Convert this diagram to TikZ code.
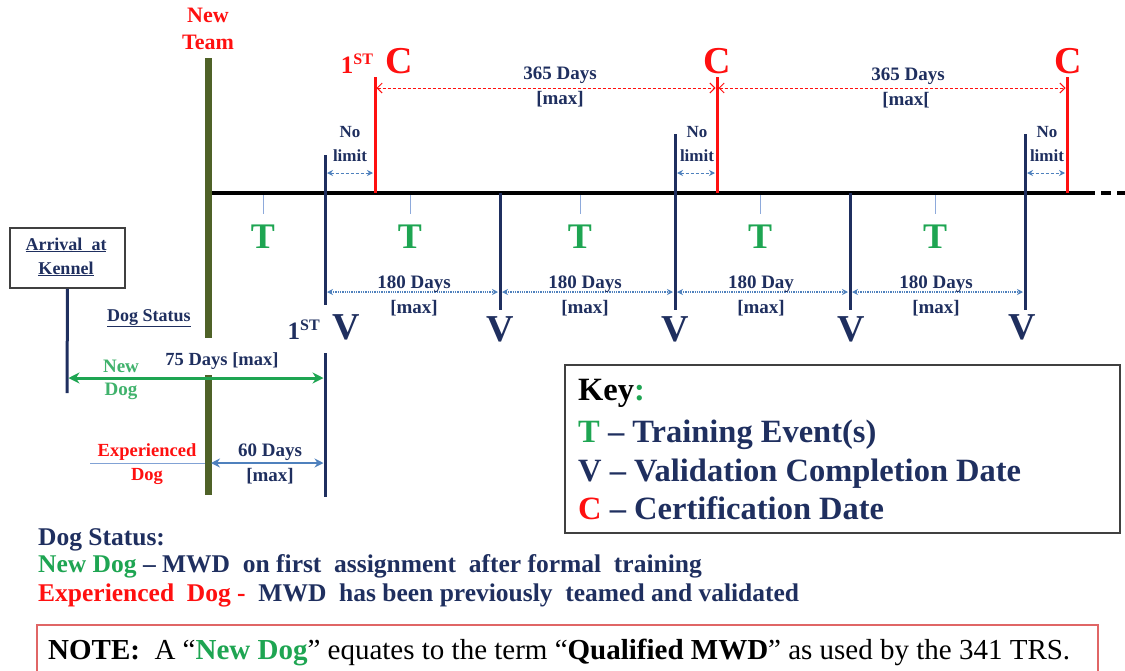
\documentclass[tikz,border=0pt]{standalone}
\usepackage{fontspec}
\setmainfont{Liberation Serif}
\usetikzlibrary{arrows.meta}
\definecolor{navy}{HTML}{1F2F5F}
\definecolor{tgreen}{HTML}{1EA552}
\definecolor{tred}{HTML}{FF1010}
\definecolor{olive}{HTML}{4F6228}
\definecolor{lblue}{HTML}{4F81BD}
\definecolor{tickc}{HTML}{8EAADB}
\definecolor{notered}{HTML}{E06666}
\tikzset{
 vl/.style={draw=navy, line width=3pt},
 cl/.style={draw=tred, line width=3pt},
 tk/.style={draw=tickc, line width=1pt},
 lb/.style={font=\bfseries\fontsize{19}{19}\selectfont, text=navy, inner sep=0pt, anchor=base},
 big/.style={font=\bfseries\fontsize{38}{38}\selectfont, inner sep=0pt, anchor=base},
 yr/.style={draw=tred, densely dashed, line width=1pt, {Straight Barb[length=5pt,width=10pt]}-{Straight Barb[length=5pt,width=10pt]}},
 hd/.style={draw=lblue, densely dotted, line width=1.3pt, {Stealth[length=6pt,width=6pt]}-{Stealth[length=6pt,width=6pt]}},
 nl/.style={draw=lblue, densely dashed, line width=1pt, {Stealth[length=6pt,width=6pt]}-{Stealth[length=6pt,width=6pt]}},
 keyt/.style={font=\bfseries\fontsize{32.5}{32.5}\selectfont, text=navy, inner sep=0pt, anchor=base west},
 st/.style={font=\bfseries\fontsize{25.5}{25.5}\selectfont, text=navy, inner sep=0pt, anchor=base west},
}
\begin{document}
\begin{tikzpicture}[x=1pt,y=-1pt]
\useasboundingbox (0,0) rectangle (1125,670);
% ---- main timeline
\coordinate (tl0) at (205,193);
\coordinate (tl1) at (1085,193);
\coordinate (tl2) at (1125,193);
\draw[black, line width=4pt] (tl0) -- (tl1);
\draw[black, line width=4pt, dash pattern=on 10pt off 6pt] (tl1) -- (tl2);
% ---- New Team bar
\node[font=\bfseries\fontsize{22}{27}\selectfont, text=tred, align=center, inner sep=0pt] (newteam) at (208,29) {New\\Team};
\coordinate (nt0) at (208,58);
\coordinate (nt1) at (208,338);
\coordinate (nt2) at (208,375);
\coordinate (nt3) at (208,495);
\draw[olive, line width=7pt] (nt0) -- (nt1);
\draw[olive, line width=7pt] (nt2) -- (nt3);
% ---- C lines
\foreach \n/\x in {1/375,2/717,3/1067}{
  \coordinate (c\n t) at (\x,77);
  \coordinate (c\n b) at (\x,193);
  \draw[cl] (c\n t) -- (c\n b);
}
\node[big, text=tred] (c1l) at (377,73) {{\fontsize{25}{25}\selectfont 1\raisebox{9pt}{\fontsize{16}{16}\selectfont ST}}\,\,C};
\node[big, text=tred] (c2l) at (717,73) {C};
\node[big, text=tred] (c3l) at (1068,73) {C};
\coordinate (y1a) at (376.5,88); \coordinate (y1b) at (715.5,88);
\coordinate (y2a) at (718.5,88); \coordinate (y2b) at (1065.5,88);
\draw[yr] (y1a) -- (y1b);
\draw[yr] (y2a) -- (y2b);
\node[lb] (d365a) at (560,79) {365 Days};
\node[lb] (m365a) at (560,104) {[max]};
\node[lb] (d365b) at (908,80) {365 Days};
\node[lb] (m365b) at (906,105) {[max[};
% ---- V lines
\coordinate (v1t) at (325,155); \coordinate (v1b) at (325,305);
\coordinate (v1u) at (325,353); \coordinate (v1e) at (325,497);
\draw[vl] (v1t) -- (v1b);
\draw[vl] (v1u) -- (v1e);
\coordinate (v2t) at (500,193); \coordinate (v2b) at (500,310);
\coordinate (v3t) at (675,134); \coordinate (v3b) at (675,310);
\coordinate (v4t) at (850,193); \coordinate (v4b) at (850,310);
\coordinate (v5t) at (1025,134); \coordinate (v5b) at (1025,310);
\draw[vl] (v2t) -- (v2b);
\draw[vl] (v3t) -- (v3b);
\draw[vl] (v4t) -- (v4b);
\draw[vl] (v5t) -- (v5b);
\node[big, text=navy, anchor=base east] (v1l) at (360,339) {{\fontsize{25}{25}\selectfont 1\raisebox{9pt}{\fontsize{16}{16}\selectfont ST}}\,\,V};
\node[big, text=navy] (v2l) at (500,341) {V};
\node[big, text=navy] (v3l) at (675,341) {V};
\node[big, text=navy] (v4l) at (851,341) {V};
\node[big, text=navy] (v5l) at (1022,339) {V};
% ---- No limit
\foreach \n/\x/\a/\b in {1/350/327/373,2/697/677/715,3/1047/1027/1065}{
  \node[lb, font=\bfseries\fontsize{17}{17}\selectfont] (no\n) at (\x,137) {No};
  \node[lb, font=\bfseries\fontsize{17}{17}\selectfont] (lim\n) at (\x,161) {limit};
  \coordinate (nla\n) at (\a,173);
  \coordinate (nlb\n) at (\b,173);
  \draw[nl] (nla\n) -- (nlb\n);
}
% ---- T ticks
\foreach \n/\x in {1/263,2/410,3/580,4/760,5/935}{
  \coordinate (tt\n) at (\x,195);
  \coordinate (tb\n) at (\x,214);
  \draw[tk] (tt\n) -- (tb\n);
  \node[big, font=\bfseries\fontsize{36}{36}\selectfont, text=tgreen] (t\n) at (\x,248) {T};
}
% ---- 180 day arrows
\foreach \n/\a/\b/\c/\lab in {1/327/498/414/180 Days,2/502/673/585/180 Days,3/677/848/761/180 Day,4/852/1023/936/180 Days}{
  \coordinate (ha\n) at (\a,292);
  \coordinate (hb\n) at (\b,292);
  \draw[hd] (ha\n) -- (hb\n);
  \node[lb] (hd\n) at (\c,288) {\lab};
  \node[lb] (hm\n) at (\c,313) {[max]};
}
% ---- Arrival at Kennel
\node[draw=black!75, line width=1.5pt, minimum width=115pt, minimum height=60pt, inner sep=0pt] (kennel) at (67.5,258) {};
\node[lb, font=\bfseries\fontsize{18}{18}\selectfont] (kt1) at (66,250) {\underline{Arrival\ \ at}};
\node[lb, font=\bfseries\fontsize{18}{18}\selectfont] (kt2) at (66,274) {\underline{Kennel}};
\coordinate (kb) at (67,393);
\draw[vl] (kennel.south) -- (kb);
\node[lb, font=\bfseries\fontsize{18}{18}\selectfont] (ds) at (149,321) {\underline{Dog Status}};
% ---- 75 days
\coordinate (g1) at (68.5,378); \coordinate (g2) at (323.5,378);
\draw[tgreen, line width=3pt, {Stealth[length=11pt,width=11pt]}-{Stealth[length=11pt,width=11pt]}] (g1) -- (g2);
\node[lb, font=\bfseries\fontsize{18.5}{18.5}\selectfont] (d75) at (222,365) {75 Days [max]};
\node[lb, font=\bfseries\fontsize{19}{19}\selectfont, text=tgreen!85] (nd1) at (121,372) {New};
\node[lb, font=\bfseries\fontsize{19}{19}\selectfont, text=tgreen!85] (nd2) at (121,395) {Dog};
% ---- 60 days
\node[lb, font=\bfseries\fontsize{18.5}{18.5}\selectfont, text=tred] (ed1) at (147,456) {Experienced};
\node[lb, font=\bfseries\fontsize{18.5}{18.5}\selectfont, text=tred] (ed2) at (147,480) {Dog};
\coordinate (e0) at (90,463); \coordinate (e1) at (205,463);
\draw[tickc!80!lblue, line width=1pt] (e0) -- (e1);
\coordinate (s1) at (211,463); \coordinate (s2) at (323.5,463);
\draw[lblue, line width=2.5pt, {Stealth[length=9pt,width=9pt]}-{Stealth[length=9pt,width=9pt]}] (s1) -- (s2);
\node[lb] (d60) at (270,456) {60 Days};
\node[lb] (m60) at (270,481) {[max]};
% ---- Key box
\node[draw=black!75, line width=1.5pt, minimum width=555pt, minimum height=168pt, inner sep=0pt] (keybox) at (842.5,449) {};
\node[keyt, text=black] (k0) at (578,400) {Key\textcolor{tgreen}{:}};
\node[keyt] (k1) at (578,442) {\textcolor{tgreen}{T} -- Training Event(s)};
\node[keyt] (k2) at (578,481) {V -- Validation Completion Date};
\node[keyt] (k3) at (578,519) {\textcolor{tred}{C} -- Certification Date};
% ---- Dog status legend
\node[st] (dsl0) at (38,545) {Dog Status:};
\node[st] (dsl1) at (38,572) {\textcolor{tgreen}{New Dog} -- MWD\ \ on first\ \ assignment\ \ after formal\ \ training};
\node[st] (dsl2) at (38,601) {\textcolor{tred}{Experienced\ \ Dog -}\ \ MWD\ \ has been previously\ \ teamed and validated};
% ---- Note
\coordinate (nb0) at (37,625); \coordinate (nb1) at (1098,690);
\draw[notered, line width=1.5pt] (nb0) rectangle (nb1);
\node[inner sep=0pt, anchor=base west, font=\fontsize{29}{29}\selectfont, text=black] (note) at (48,659)
 {\textbf{NOTE:}\ \ A ``\textbf{\textcolor{tgreen}{New Dog}}'' equates to the term ``\textbf{Qualified MWD}'' as used by the 341 TRS.};
\end{tikzpicture}
\end{document}
